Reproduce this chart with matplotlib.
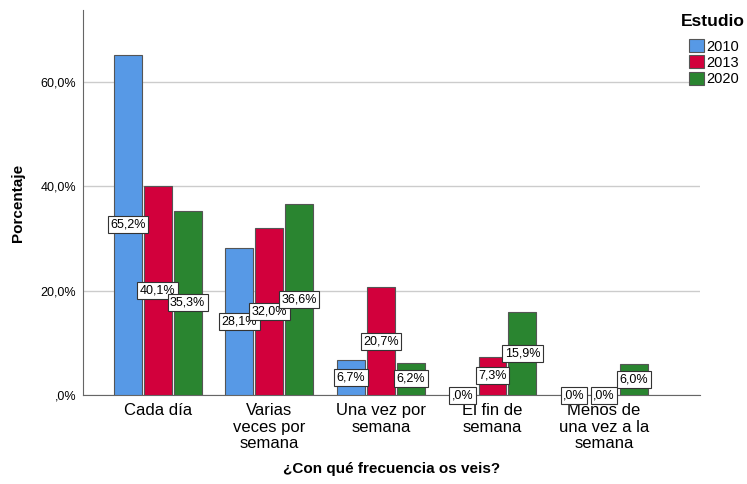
import numpy as np
import matplotlib
matplotlib.use("Agg")
from matplotlib import pyplot as plt

categories = ["Cada día", "Varias\nveces por\nsemana", "Una vez por\nsemana",
              "El fin de\nsemana", "Menos de\nuna vez a la\nsemana"]
years = ["2010", "2013", "2020"]
v2010 = [65.2, 28.1, 6.7, 0.0, 0.0]
v2013 = [40.1, 32.0, 20.7, 7.3, 0.0]
v2020 = [35.3, 36.6, 6.2, 15.9, 6.0]
colors = ["#5799e6", "#d2003c", "#2a8530"]

def fmt(v):
	s = "%.1f%%" % v
	s = s.replace(".", ",")
	if s.startswith("0"):
		s = s[1:]
	return s

plt.rcParams["font.family"] = ["Liberation Sans", "DejaVu Sans"]

fig = plt.figure(figsize=(7.47, 4.84), dpi=100)
ax = fig.add_axes([83/747, 1-395/484, 617/747, 385/484])

x = np.arange(len(categories))
w = 0.25
step = 0.268
for i, vals in enumerate([v2010, v2013, v2020]):
	pos = x + (i-1)*step
	ax.bar(pos, vals, w, color=colors[i], edgecolor="#555555", linewidth=0.8,
		label=years[i], zorder=3)
	for p, v in zip(pos, vals):
		ax.text(p, v/2, fmt(v), ha="center", va="center", fontsize=9, zorder=5,
			bbox=dict(boxstyle="square,pad=0.2", fc="white", ec="#333333", lw=0.8))

ax.set_xlim(-0.67, 4.86)
ax.set_ylim(0, 73.8)
ax.set_yticks([0, 20, 40, 60])
ax.set_yticklabels([",0%", "20,0%", "40,0%", "60,0%"], fontsize=9)
ax.yaxis.grid(True, color="#cccccc", lw=1, zorder=0)
ax.set_xticks(x)
ax.set_xticklabels(categories, fontsize=12, linespacing=1.1)
ax.tick_params(axis="x", length=0, pad=6)
ax.tick_params(axis="y", length=0, pad=5)
for s in ["top", "right"]:
	ax.spines[s].set_visible(False)
for s in ["left", "bottom"]:
	ax.spines[s].set_color("#666666")

ax.set_ylabel("Porcentaje", fontsize=11, fontweight="bold", labelpad=11)
ax.set_xlabel("¿Con qué frecuencia os veis?", fontsize=11, fontweight="bold", labelpad=8)

# legend title drawn separately so the gap to the entries can be set
fig.text(745/747, 1-22/484, "Estudio", ha="right", va="center", fontsize=12.5,
	fontweight="bold")
leg = fig.legend(*ax.get_legend_handles_labels(), loc="upper left",
	bbox_to_anchor=(689/747, 1-39/484),
	frameon=False, fontsize=10.5, handlelength=1.0, handleheight=1.0,
	handletextpad=0.2, labelspacing=0.13, borderaxespad=0, borderpad=0)

fig.savefig("out.png", dpi=100)
